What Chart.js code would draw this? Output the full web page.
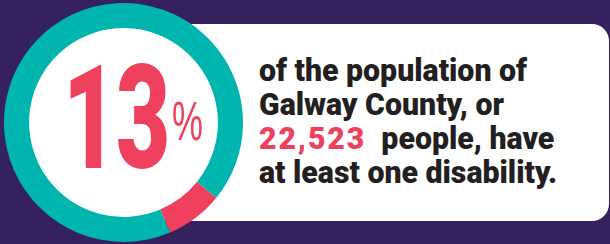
<!DOCTYPE html>
<html>
<head>
<meta charset="utf-8">
<script src="https://cdn.jsdelivr.net/npm/chart.js@4"></script>
<style>
  html, body { margin: 0; padding: 0; }
  body {
    width: 610px; height: 244px; overflow: hidden; position: relative;
    background: #35215d;
  }
  .card {
    position: absolute; left: 130px; top: 24px; width: 479px; height: 197px;
    background: #fff; border-radius: 0 17px 17px 0;
  }
  #ring { position: absolute; left: 4px; top: 3px; width: 239px; height: 239px; }
  .big {
    position: absolute; left: 63px; top: 46px; color: #ef405e;
    font: 900 145px/1 Roboto, "Liberation Sans", sans-serif;
    letter-spacing: -2px;
    transform-origin: left top; white-space: nowrap;
  }
  .pct {
    position: absolute; left: 172px; top: 93px; color: #ef405e;
    font: 56px/1 "Liberation Sans", sans-serif;
    transform-origin: left top; white-space: nowrap;
  }
  .copy {
    position: absolute; left: 259px; top: 53px; color: #231f20;
    font: 900 32px/34px Roboto, "Liberation Sans", sans-serif;
    white-space: nowrap; transform-origin: left top;
  }
  .copy .hl { color: #ef405e; letter-spacing: 2px; margin-right: 8px; }
</style>
</head>
<body>
<div class="card"></div>
<canvas id="ring" width="239" height="239"></canvas>
<div class="big" id="big"></div>
<div class="pct" id="pct"></div>
<div class="copy" id="copy"></div>
<script>
// ── Data ──────────────────────────────────────────────────────────────────────

const SEGMENTS    = ["Other residents", "With a disability"];
const SHARES      = [92.2, 7.8];     // arc share as drawn in the graphic
const START_DEG   = 129;             // where the pink arc begins (clockwise from top)
const STAT        = "13";
const STAT_UNIT   = "%";
const COPY_LINES  = [
  ["of the population of"],
  ["Galway County, or"],
  ["22,523", " people, have"],
  ["at least one disability."],
];

const TEAL = "#00b5ad";
const PINK = "#ef405e";

// ── Text ──────────────────────────────────────────────────────────────────────

// squeeze a block horizontally so it spans the given width (condensed look)
function squeezeTo(el, width) {
  el.style.display = "inline-block";
  const w = el.getBoundingClientRect().width;
  el.style.transform = `scaleX(${width / w})`;
}

const big = document.getElementById("big");
big.textContent = STAT;
squeezeTo(big, 106);

const pct = document.getElementById("pct");
pct.textContent = STAT_UNIT;
squeezeTo(pct, 31);

const copy = document.getElementById("copy");
copy.innerHTML = COPY_LINES.map(parts =>
  parts.length > 1
    ? `<div><span class="hl">${parts[0]}</span>${parts[1]}</div>`
    : `<div>${parts[0]}</div>`
).join("");
copy.style.display = "inline-block";
const firstLine = copy.firstElementChild;
const probe = document.createElement("span");
probe.textContent = firstLine.textContent;
firstLine.textContent = "";
firstLine.appendChild(probe);
copy.style.transform = `scaleX(${268 / probe.getBoundingClientRect().width})`;

// ── Ring ──────────────────────────────────────────────────────────────────────

// fill the hole white, so the purple behind the card does not show through
const holeFill = {
  id: "holeFill",
  beforeDatasetsDraw(chart) {
    const arc = chart.getDatasetMeta(0).data[0];
    if (!arc) return;
    const { x, y, innerRadius } = arc.getProps(["x", "y", "innerRadius"], true);
    const ctx = chart.ctx;
    ctx.save();
    ctx.fillStyle = "#fff";
    ctx.beginPath();
    ctx.arc(x, y, innerRadius + 1, 0, Math.PI * 2);
    ctx.fill();
    ctx.restore();
  },
};

new Chart(document.getElementById("ring"), {
  type: "doughnut",
  data: {
    labels: SEGMENTS,
    datasets: [{
      data: [SHARES[1], SHARES[0]],
      backgroundColor: [PINK, TEAL],
      borderWidth: 0,
    }],
  },
  options: {
    responsive: false,
    animation: false,
    rotation: START_DEG,
    cutout: "79%",
    layout: { padding: 0 },
    plugins: { legend: { display: false }, tooltip: { enabled: false } },
  },
  plugins: [holeFill],
});
</script>
</body>
</html>
